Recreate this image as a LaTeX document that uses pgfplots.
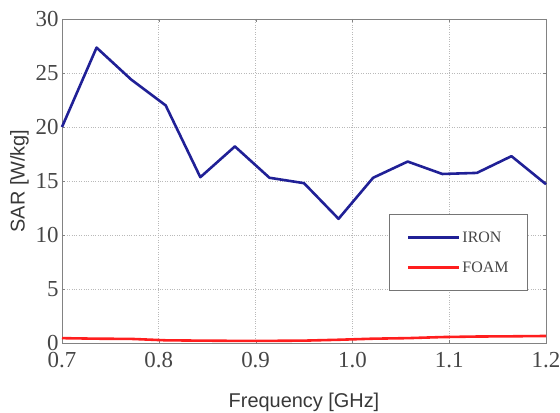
\documentclass[border=0pt]{standalone}
\usepackage{fontspec}
\setmainfont{Liberation Serif}
\newfontfamily\sansf{Liberation Sans}
\usepackage{pgfplots}
\pgfplotsset{compat=1.18}
\usetikzlibrary{calc}
\definecolor{ironblue}{RGB}{32,32,150}
\definecolor{foamred}{RGB}{255,30,30}
\definecolor{axgray}{RGB}{130,130,130}
\definecolor{txtgray}{RGB}{70,70,70}
\begin{document}
\begin{tikzpicture}
\begin{axis}[
  scale only axis,
  width=484bp, height=324bp,
  xmin=0.7, xmax=1.2, ymin=0, ymax=30,
  xtick={0.7,0.8,...,1.2},
  ytick={0,5,...,30},
  xticklabel style={/pgf/number format/fixed,/pgf/number format/fixed zerofill,/pgf/number format/precision=1, yshift=-6bp},
  /pgf/number format/assume math mode=true,
  ticklabel style={font=\fontsize{23}{23}\selectfont, text=txtgray},
  xlabel={Frequency [GHz]},
  ylabel={SAR [W/kg]},
  label style={font=\sansf\fontsize{20}{20}\selectfont, text=txtgray!80!black},
  xlabel style={yshift=-18bp},
  ylabel style={yshift=0bp},
  grid=major,
  major grid style={dotted, gray!55, line width=0.8pt},
  axis line style={axgray, line width=1pt},
  tick style={axgray},
  tick align=inside,
  major tick length=3bp,
  legend style={at={(0.963,0.160)}, anchor=south east, draw=axgray!90!black, line width=1.1pt,
    font=\fontsize{16}{16}\selectfont, text=txtgray, row sep=14bp, inner xsep=17bp, inner ysep=15bp},
  legend cell align=left,
  legend image code/.code={\draw[#1] (0bp,0bp) -- (51bp,0bp);},
  clip=false,
]
\coordinate (A) at (rel axis cs:0,0);
\coordinate (B) at (rel axis cs:1,1);
\addplot[ironblue, line width=2.6pt, line join=round] coordinates {
(0.7000,20.0) (0.7357,27.35) (0.7714,24.4) (0.8071,22.0) (0.8429,15.35)
(0.8786,18.2) (0.9143,15.3) (0.9500,14.8) (0.9857,11.5) (1.0214,15.3)
(1.0571,16.8) (1.0929,15.65) (1.1286,15.75) (1.1643,17.3) (1.2000,14.7)};
\addlegendentry{IRON}
\addplot[foamred, line width=2.6pt] coordinates {
(0.7000,0.45) (0.7357,0.40) (0.7714,0.38) (0.8071,0.25) (0.8429,0.22)
(0.8786,0.20) (0.9143,0.20) (0.9500,0.22) (0.9857,0.30) (1.0214,0.40)
(1.0571,0.45) (1.0929,0.55) (1.1286,0.60) (1.1643,0.62) (1.2000,0.65)};
\addlegendentry{FOAM}
\end{axis}
\pgfresetboundingbox
\path ($(A)+(-62bp,-69bp)$) rectangle ($(B)+(14bp,19bp)$);
\end{tikzpicture}
\end{document}
